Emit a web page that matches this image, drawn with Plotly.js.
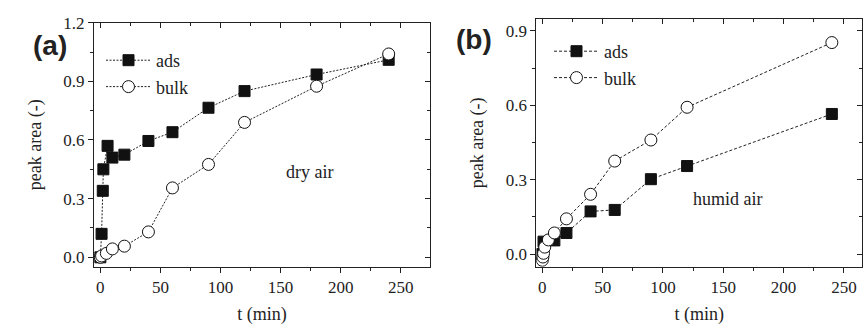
<!DOCTYPE html>
<html>
<head>
<meta charset="utf-8">
<script src="https://cdn.plot.ly/plotly-3.0.1.min.js"></script>
<style>html,body{margin:0;padding:0;background:#fff;}#chart{width:864px;height:325px;}</style>
</head>
<body>
<div id="chart"></div>
<script>
// Panel (a): dry air
const tAdsDry = [0, 1, 2, 2.5, 6, 10, 20, 40, 60, 90, 120, 180, 240];
const adsDry = [0, 0.12, 0.34, 0.45, 0.57, 0.51, 0.525, 0.595, 0.64, 0.765, 0.85, 0.935, 1.01];
const tBulkDry = [0, 1, 5, 10, 20, 40, 60, 90, 120, 180, 240];
const bulkDry = [0, 0.007, 0.02, 0.043, 0.057, 0.13, 0.355, 0.475, 0.69, 0.875, 1.04];
// Panel (b): humid air
const tAdsHum = [0, 1, 10, 20, 40, 60, 90, 120, 240];
const adsHum = [0, 0.05, 0.055, 0.085, 0.172, 0.178, 0.302, 0.355, 0.565];
const tBulkHum = [0, 0.5, 1, 2, 5, 10, 20, 40, 60, 90, 120, 240];
const bulkHum = [-0.025, -0.012, 0.003, 0.028, 0.057, 0.085, 0.142, 0.241, 0.375, 0.46, 0.592, 0.853];
// Tick labels
const yTicksA = [0.0, 0.3, 0.6, 0.9, 1.2];
const yTicksB = [0.0, 0.3, 0.6, 0.9];
const xTicks = [0, 50, 100, 150, 200, 250];

const serif = "Liberation Serif";
const ink = "#222";

function sq(x, y, xa, ya, dash, leg) {
  return {x: x, y: y, xaxis: xa, yaxis: ya, name: "ads", legend: leg, mode: "lines+markers",
    line: {color: ink, width: 1, dash: dash},
    marker: {symbol: "square", size: 11, color: "#111", line: {color: "#111", width: 1}}};
}
function ci(x, y, xa, ya, dash, leg) {
  return {x: x, y: y, xaxis: xa, yaxis: ya, name: "bulk", legend: leg, mode: "lines+markers",
    line: {color: ink, width: 1, dash: dash},
    marker: {symbol: "circle", size: 12, color: "#fff", line: {color: "#111", width: 1}}};
}

const dotA = "2px,1.5px";
const dashB = "3px,2px";
const traces = [
  sq(tAdsDry, adsDry, "x", "y", dotA, "legend"),
  ci(tBulkDry, bulkDry, "x", "y", dotA, "legend"),
  sq(tAdsHum, adsHum, "x2", "y2", dashB, "legend2"),
  ci(tBulkHum, bulkHum, "x2", "y2", dashB, "legend2")
];

const tickFont = {family: serif, size: 17, color: "#222"};
const titleFont = {family: serif, size: 18, color: "#222"};

function xax(domain, range, anchor) {
  return {domain: domain, range: range, anchor: anchor, tickvals: xTicks, ticktext: xTicks.map(String),
    ticks: "outside", ticklen: 5, tickcolor: "#222", showline: true, linecolor: "#222", linewidth: 1,
    mirror: true, showgrid: false, zeroline: false, tickfont: tickFont,
    minor: {dtick: 25, tick0: 0, ticks: "outside", ticklen: 3, tickcolor: "#222"},
    title: {text: "t (min)", font: titleFont, standoff: 11}};
}
function yax(domain, range, anchor, vals) {
  return {domain: domain, range: range, anchor: anchor, tickvals: vals, ticktext: vals.map(v => v.toFixed(1)),
    ticks: "outside", ticklen: 5, tickcolor: "#222", showline: true, linecolor: "#222", linewidth: 1,
    mirror: true, showgrid: false, zeroline: false, tickfont: tickFont,
    minor: {dtick: 0.15, tick0: 0, ticks: "outside", ticklen: 3, tickcolor: "#222"},
    title: {text: "peak area (-)", font: titleFont, standoff: 17}};
}
function xtop(domain, range, anchor, ov) {
  return {domain: domain, range: range, anchor: anchor, overlaying: ov, side: "top",
    tickvals: xTicks, showticklabels: false, ticks: "inside", ticklen: 5, tickcolor: "#222",
    showline: false, showgrid: false, zeroline: false,
    minor: {dtick: 25, tick0: 0, ticks: "inside", ticklen: 3, tickcolor: "#222"}};
}
function yright(domain, range, anchor, ov, vals) {
  return {domain: domain, range: range, anchor: anchor, overlaying: ov, side: "right",
    tickvals: vals, showticklabels: false, ticks: "inside", ticklen: 5, tickcolor: "#222",
    showline: false, showgrid: false, zeroline: false,
    minor: {dtick: 0.15, tick0: 0, ticks: "inside", ticklen: 3, tickcolor: "#222"}};
}

const dxA = [0.1088, 0.4977], dyA = [0.1794, 0.9302];
const dxB = [0.6207, 0.9977], dyB = [0.1794, 0.9415];
const rxA = [-5.3, 274.4], ryA = [-0.048, 1.2];
const rxB = [-5, 265], ryB = [-0.051, 0.948];

// empty traces to activate the mirror-tick axes
traces.push({x: [], y: [], xaxis: "x3", yaxis: "y3", showlegend: false, hoverinfo: "skip"});
traces.push({x: [], y: [], xaxis: "x4", yaxis: "y4", showlegend: false, hoverinfo: "skip"});

const layout = {
  width: 864, height: 325, margin: {l: 0, r: 0, t: 0, b: 0},
  paper_bgcolor: "#fff", plot_bgcolor: "rgba(0,0,0,0)", showlegend: true,
  font: {family: serif},
  xaxis: xax(dxA, rxA, "y"), yaxis: yax(dyA, ryA, "x", yTicksA),
  xaxis2: xax(dxB, rxB, "y2"), yaxis2: yax(dyB, ryB, "x2", yTicksB),
  xaxis3: xtop(dxA, rxA, "y3", "x"), yaxis3: yright(dyA, ryA, "x3", "y", yTicksA),
  xaxis4: xtop(dxB, rxB, "y4", "x2"), yaxis4: yright(dyB, ryB, "x4", "y2", yTicksB),
  legend: {x: 101/864, y: 1 - 42/325, xanchor: "left", yanchor: "top", bgcolor: "rgba(0,0,0,0)",
    font: {family: serif, size: 18, color: "#222"}, itemwidth: 45, tracegroupgap: 0},
  legend2: {x: 549/864, y: 1 - 33/325, xanchor: "left", yanchor: "top", bgcolor: "rgba(0,0,0,0)",
    font: {family: serif, size: 18, color: "#222"}, itemwidth: 45, tracegroupgap: 0},
  annotations: [
    {text: "(a)", xref: "paper", yref: "paper", x: 31/864, y: 1 - 28/325, showarrow: false,
      font: {family: "Liberation Sans", size: 28, color: "#222", weight: "bold"}},
    {text: "(b)", xref: "paper", yref: "paper", x: 474/864, y: 1 - 22/325, showarrow: false,
      font: {family: "Liberation Sans", size: 28, color: "#222", weight: "bold"}},
    {text: "dry air", xref: "paper", yref: "paper", x: 309/864, y: 1 - 172/325, showarrow: false,
      font: {family: serif, size: 18, color: "#222"}},
    {text: "humid air", xref: "paper", yref: "paper", x: 765/864, y: 1 - 199/325, showarrow: false,
      font: {family: serif, size: 18, color: "#222"}}
  ]
};

Plotly.newPlot("chart", traces, layout, {displayModeBar: false, staticPlot: true});
</script>
</body>
</html>
